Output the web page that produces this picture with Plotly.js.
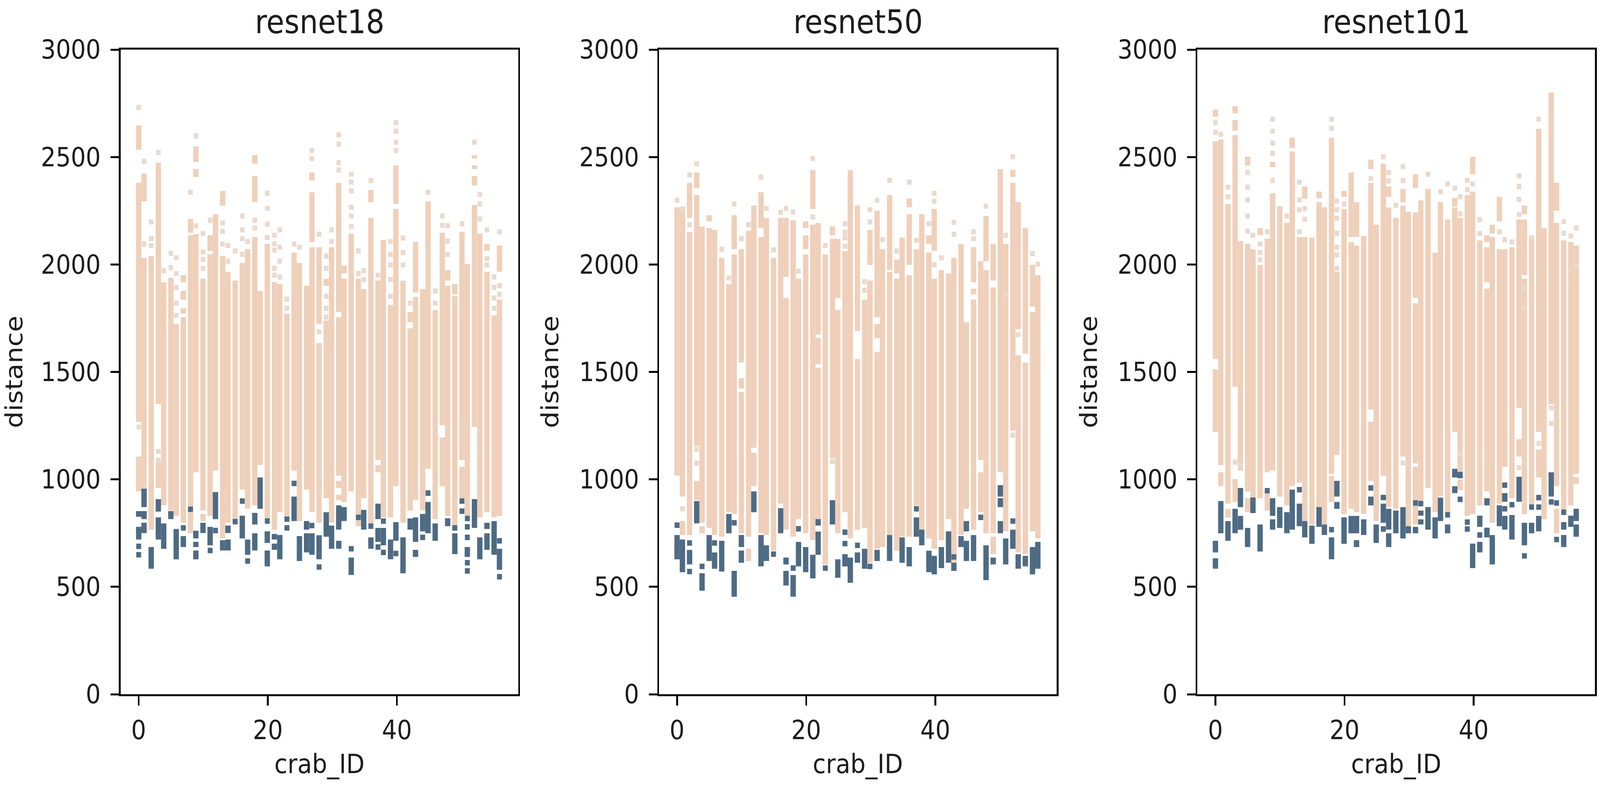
<!DOCTYPE html>
<html>
<head>
<meta charset="utf-8">
<script src="https://cdn.plot.ly/plotly-3.0.1.min.js"></script>
<style>html,body{margin:0;padding:0;background:#fff;overflow:hidden}</style>
</head>
<body>
<div id="myDiv"></div>
<script>
var titles = ["resnet18", "resnet50", "resnet101"];
var x_ticks = [0, 20, 40];
var y_ticks = [0, 500, 1000, 1500, 2000, 2500, 3000];

// every list has one row per crab_ID (0..56)
// *_peach / *_blue are solid runs of points [low, high], *_dots are lone points

var r18_peach = [
[[2534,2647],[1268,2380],[944,1106]],[[2294,2423],[960,2030]],[[766,2039]],[[1350,2474],[960,1082]],[[879,1917]],
[[855,1938]],[[830,1723]],[[1917,1950],[1836,1877],[1771,1796],[798,1755]],[[2148,2212],[749,2136]],[[2477,2550],[2407,2444],[1033,2141]],
[[855,1934],[806,839]],[[2063,2136],[830,2047]],[[1041,2234]],[[2274,2342],[725,2039]],[[798,1966]],
[[806,1925]],[[952,2007]],[[863,2071]],[[2469,2509],[2290,2412],[879,2128]],[[1066,1877]],
[[815,2096]],[[766,1917]],[[847,1909]],[[830,1771]],[[1998,2055],[1041,1998]],
[[806,2007]],[[952,1901]],[[2391,2428],[2104,2336],[847,2080]],[[1723,2080],[798,1634]],[[1901,1933],[912,1739]],
[[798,2080]],[[1779,2380],[1017,1755],[960,993],[903,928]],[[1958,1995],[895,1934]],[[944,2144]],[[782,1934]],
[[912,1885]],[[2290,2347],[790,2217]],[[1090,1925],[1033,1066]],[[823,2115]],[[823,1812]],
[[2282,2461],[968,2258]],[[798,1925]],[[1731,1779],[855,1703]],[[1869,2104],[904,1849]],[[855,1885]],
[[1050,2294]],[[815,1788]],[[1252,2148],[968,1195]],[[1925,1974],[830,1901]],[[1861,1909],[782,1852]],
[[1090,2152],[912,1058]],[[830,2002]],[[2493,2509],[2444,2461],[2368,2412],[1244,2277]],[[823,2144]],[[2063,2096],[847,1966]],
[[823,1763]],[[1966,2088],[830,1836]]
];
var r18_peach_dots = [
[2731,1244],[2480,2096],[2198,2120,2088],[2521,1130,1090],[1971],
[2052,1985],[2031,1958,1893,1820,1763],[],[2336],[2598,2180],
[2144,2058,2023,1982],[2206],[],[2193,2153,2096],[2088,2015],
[2063],[2226,2161,2120,2047],[2107],[2206,2169],[],
[2331,2261,2188,2125],[2136,2096,2067,1982,1950],[2161,2080,2015,1941],[1839,1796],[2096],
[2080],[],[2530,2493],[2141,1687],[2039,1982,1852,1796,1755],
[2161,2107],[2603,2561,2474,2440],[],[2420,2383,2342,2266,2225,2177],[2063,1958],
[1971,1930],[2391],[1950],[],[2107,2047,1998,1930,1852],
[2660,2620,2569,2530],[2123,2055,1998],[1820],[],[],
[2336],[1877,1820],[2226,2182],[2180,2109,2047],[],
[2190],[],[2569],[2326,2282,2213],[2161,2028,1998],
[1942,1893,1844,1796],[2152,1901,1861]
];
var r18_blue = [
[[826,852],[720,779]],[[871,957],[815,852],[750,798]],[[584,685]],[[850,908],[720,823]],[[677,795]],
[[815,852]],[[628,769]],[[685,736]],[],[[725,761],[685,709],[628,669]],
[[750,798]],[[693,779]],[[815,941]],[[669,717]],[[750,785],[669,720]],
[],[[725,831]],[[649,720]],[[790,844],[669,749]],[[863,1009]],
[[704,758],[595,669]],[[720,746],[672,701]],[[628,741]],[],[[806,920]],
[[620,736]],[[766,806],[660,749]],[[649,749]],[[628,740]],[[733,847]],
[[677,785]],[[766,879],[677,714]],[[806,871]],[[555,636]],[],
[[766,858]],[[677,730]],[[815,887],[709,774]],[[693,774]],[[628,720]],
[[714,801]],[[563,730]],[[766,818]],[[709,823],[639,672]],[[758,839]],
[[749,895]],[[714,795]],[],[[782,819]],[[652,749]],
[],[[639,685]],[[774,908]],[[628,730]],[[672,749],[769,798]],
[[649,806]],[[579,677]]
];
var r18_blue_dots = [
[688,649],[],[],[],[],[],[],[774],[861],[],
[],[669],[762],[],[],[803],[899],[620],[],[],
[806],[],[],[815,774],[981],[],[],[785],[592],[],
[],[],[],[677],[823],[],[782],[685],[806,660],[],
[655],[],[],[],[730],[936],[],[],[],[774],
[899,852],[818,779,730,612,574],[],[],[],[],[714,547]
];

var r50_peach = [
[[1017,2266]],[[920,2266],[741,806]],[[2217,2380],[741,2152]],[[2355,2428],[1155,2323],[904,993]],[[798,2177],[749,782]],
[[2201,2229],[774,2169]],[[741,2161]],[[733,2031]],[[847,1909]],[[2071,2229],[839,2047]],
[[1544,2071],[1423,1471],[749,1406]],[[733,2157],[620,677]],[[1147,2274],[968,1123]],[[2169,2336],[749,2128]],[[741,2217]],
[[668,2031]],[[1552,2217],[887,1552]],[[1942,2217],[766,1844]],[[733,2206]],[[815,1934]],
[[2169,2201],[2071,2136],[749,2047]],[[2258,2440],[717,2185]],[[1674,2193],[1536,1658],[815,1520]],[[603,2047]],[[2136,2177],[1098,2120]],
[[1844,2120],[749,1788]],[[847,2063]],[[725,2440]],[[1690,2274],[766,1560]],[[774,1836]],
[[758,1925],[1998,2161],[612,758]],[[1755,2250],[1658,1723],[677,1593]],[[685,2071]],[[1974,2323],[741,1966]],[[1958,2023],[668,1934]],
[[733,2125]],[[2266,2307],[1998,2234],[733,1950]],[[879,2071]],[[740,2234]],[[2096,2136],[725,2055]],
[[2063,2258],[677,1934]],[[717,1974]],[[815,1958]],[[612,2031]],[[741,2096]],
[[863,1731]],[[1917,2080],[1861,1888],[766,1836]],[[1090,2015],[847,1033]],[[2015,2226],[749,1974]],[[1925,2096],[652,733],[749,1893]],
[[1033,2444]],[[758,1893],[1893,2096]],[[2407,2440],[1228,2380]],[[1698,2290],[660,1577]],[[1585,2169],[652,1544]],
[[1804,1998],[758,1779]],[[725,1950]]
];
var r50_peach_dots = [
[2299],[2258,863],[2417,2185],[2469,1140,1075],[],
[],[],[2071],[1937],[2282],
[2120],[2185],[],[2407],[2261],
[2068],[2242],[2261],[2245],[1969],
[],[2493,2221],[],[2088],[1082],
[],[2190,2150,2125,2085],[],[],[1920,1880],
[2255,2198],[2299],[2115],[2391],[2063],
[],[2383],[2112],[],[2190],
[2331,2294,1998],[2031],[],[2196,2140],[],
[],[2152,2120],[],[2271],[],
[],[2136,1860],[2501,1205],[1674],[],
[2050],[2002]
];
var r50_blue = [
[[628,741]],[[568,720]],[[604,672]],[[795,899]],[[482,563]],
[[620,741]],[[584,660]],[[571,714]],[[749,839]],[[454,574]],
[[685,741],[612,669]],[],[[847,944]],[[595,741]],[[620,693]],
[],[[749,866]],[[604,636],[506,574]],[[454,555]],[[595,709]],
[[568,685]],[[539,649]],[[785,815],[649,757]],[],[[790,903]],
[[542,628]],[[595,652]],[[519,636]],[[612,660]],[[584,677]],
[],[[620,672]],[],[[620,741]],[],
[[612,730]],[[595,685]],[[733,823]],[[693,766]],[[568,668]],
[[558,644]],[[587,685]],[[612,758]],[[574,612]],[[685,736]],
[[758,806],[620,714]],[[620,741]],[],[[531,693]],[[604,636]],
[[749,806],[871,912],[920,973]],[[604,725]],[[677,766]],[[584,652]],[[595,644]],
[[558,685]],[[584,709]]
];
var r50_blue_dots = [
[787],[],[704,571],[],[595],[],[704],[],[],[798],
[],[],[],[],[],[652],[],[],[587],[770],
[],[],[],[587],[],[],[754,701],[],[693],[],
[595],[],[],[],[],[],[],[863],[],[],
[],[],[],[639],[],[],[],[823],[],[],
[],[],[806],[],[],[],[]
];

var r101_peach = [
[[2688,2720],[1560,2574],[1220,1512]],[[1066,2582],[968,1033]],[[887,2282],[822,863]],[[2704,2736],[2623,2672],[1431,2602],[895,1001]],[[1041,2109]],
[[2461,2501],[944,2096],[847,912]],[[912,2071]],[[912,1998],[2136,2169]],[[1033,2120],[855,936]],[[2453,2477],[1041,2331]],
[[920,2271]],[[879,2193]],[[2542,2590],[968,2526]],[[985,2128]],[[2307,2363],[806,2128]],
[[790,2125]],[[2307,2339],[871,2290]],[[790,2266]],[[1025,2590],[895,1017]],[[1114,1966]],
[[2315,2342],[838,2258]],[[2128,2428],[863,2104]],[[2128,2290],[847,2088]],[[839,2133]],[[2444,2488],[1325,2380],[993,1268]],
[[806,2185]],[[1017,2469]],[[2315,2363],[2225,2265],[871,2225]],[[863,2217]],[[1106,2274],[2290,2352]],
[[879,2245],[782,879]],[[2355,2420],[1844,2242],[1074,1820],[790,1060]],[[887,2298]],[[960,2352]],[[847,2055]],
[[920,2290]],[[847,2209]],[[2270,2310],[1220,2266]],[[1033,2217],[950,1000]],[[830,2323]],
[[2420,2501],[838,2339]],[[879,2112]],[[2104,2136],[1917,2080],[944,1888]],[[2144,2185],[798,2128]],[[2201,2315],[887,2071]],
[[1058,2071]],[[912,2080]],[[1333,2209],[1106,1187]],[[1950,2209],[2234,2274],[838,1934]],[[1966,2125],[879,1966]],
[[1220,2631],[1009,1139]],[[814,2169]],[[1350,2800]],[[968,2193],[2250,2380],[749,863]],[[855,2112]],
[[879,2104]],[[1025,1925],[1917,2088],[980,1010]]
];
var r101_peach_dots = [
[2660,2615],[2605],[2359,2315],[1080],[1065],
[2428,2360,2300,2225,2155],[2136],[2095,2055,2022],[2152],[2676,2620,2565,2517,2391],
[],[2225],[],[2383,2300,2255,2152],[2260,2210],
[],[],[],[2676,2634],[2295,2255,2215,2145,2080,2045,1982],
[2282],[],[],[],[2400],
[],[2501],[2428,2388],[2275],[2456,2391,1077],
[],[],[],[2420],[],
[2339],[2375],[2355],[2315,2235,1120],[2391,2347],
[2375],[2209,2144],[],[],[2152],
[2115],[2105],[2412,2363,2303,2233,1055],[1890,1800],[2125],
[2676,1167],[],[1333,1260],[],[2200,2145],
[2133],[2169,1990]
];
var r101_blue = [
[[660,714],[584,633]],[[749,899]],[[714,806]],[[749,863]],[[871,960],[766,830]],
[[685,774]],[[843,916]],[[664,790]],[],[[830,912],[766,814]],
[[774,871]],[[749,847]],[[766,952]],[[782,887]],[[730,806]],
[[700,785]],[[779,871]],[[741,790]],[[628,730]],[[920,993],[863,895]],
[[700,823]],[[749,830]],[[749,830],[685,717]],[[741,814]],[[879,920]],
[[704,790]],[[798,887],[903,928]],[[766,863],[685,749]],[[749,855]],[[725,871]],
[[749,782]],[[749,779]],[[831,855],[790,814]],[[766,871]],[[725,823]],
[[806,915]],[[749,790]],[[1009,1049],[936,968]],[[1005,1035]],[],
[[587,701]],[[779,831],[660,709]],[[879,912],[730,775]],[[604,741]],[[782,879]],
[[896,936],[766,830]],[[720,834]],[[896,1012]],[[693,798]],[[749,798]],
[[758,830]],[],[[920,1033]],[],[[766,801],[685,741]],
[[779,831]],[[806,863],[733,790]]
];
var r101_blue_dots = [
[],[],[],[],[],[],[],[],[947],[],
[],[],[],[952],[],[],[],[],[766],[],
[],[],[],[],[960],[],[769],[],[],[],
[],[890],[887],[],[],[],[835],[],[907],[801,769],
[],[741],[],[],[],[973,863],[882],[],[644],[871],
[915,871],[],[895],[890,720],[847],[],[]
];

var peach_spans = [r18_peach, r50_peach, r101_peach];
var peach_points = [r18_peach_dots, r50_peach_dots, r101_peach_dots];
var blue_spans = [r18_blue, r50_blue, r101_blue];
var blue_points = [r18_blue_dots, r50_blue_dots, r101_blue_dots];

var W = 4550, H = 2013;
var panel_left = [343, 1874, 3405];
var panel_width = 1131;
var plot_top = 127, plot_bottom = 1778;

var PEACH = "#EFD0BA", PEACH_DOT = "#EADACE", BLUE = "#4E6B84";
var FONT = "DejaVu Sans";
var INK = "#1c1c1c";

// source was a small png, scatter columns sat on its pixel grid (3.6 px per crab, 3 px markers)
function snap(k){ return Math.round(k * 3.615 - 0.25) / 3.615; }
var col_width = 3 / 3.615;

function spanTrace(rows, color, n){
    var x = [], base = [], y = [];
    rows.forEach(function(row, k){
        row.forEach(function(s){
            var lo = Math.min(s[0], s[1]), hi = Math.max(s[0], s[1]);
            x.push(snap(k)); base.push(lo); y.push(hi - lo);
        });
    });
    return {type: "bar", x: x, y: y, base: base, width: col_width,
        marker: {color: color, line: {width: 0}},
        xaxis: "x" + n, yaxis: "y" + n, showlegend: false, hoverinfo: "skip"};
}

function dotTrace(rows, color, size, n){
    var x = [], y = [];
    rows.forEach(function(row, k){
        row.forEach(function(v){ x.push(snap(k)); y.push(v); });
    });
    return {type: "scatter", mode: "markers", x: x, y: y,
        marker: {color: color, size: size, symbol: "square", line: {width: 0}},
        xaxis: "x" + n, yaxis: "y" + n, showlegend: false, hoverinfo: "skip"};
}

var data = [];
var layout = {
    width: W, height: H,
    margin: {l: 0, r: 0, t: 0, b: 0},
    paper_bgcolor: "#fff", plot_bgcolor: "#fff",
    barmode: "overlay",
    font: {family: FONT, color: INK, size: 67},
    annotations: []
};

titles.forEach(function(name, i){
    var n = i + 1;
    var sfx = i === 0 ? "" : String(n);
    data.push(spanTrace(peach_spans[i], PEACH, sfx));
    data.push(dotTrace(peach_points[i], PEACH_DOT, 13, sfx));
    data.push(spanTrace(blue_spans[i], BLUE, sfx));
    data.push(dotTrace(blue_points[i], BLUE, 14, sfx));

    layout["xaxis" + sfx] = {
        domain: [panel_left[i] / W, (panel_left[i] + panel_width) / W],
        range: [-2.8, 58.8],
        anchor: "y" + sfx,
        tickmode: "array", tickvals: x_ticks, ticktext: x_ticks.map(String),
        ticks: "outside", ticklen: 24, tickwidth: 5, tickcolor: "#000",
        ticklabelstandoff: 6,
        showline: true, linewidth: 5, linecolor: "#000", mirror: true,
        showgrid: false, zeroline: false,
        tickfont: {family: FONT, size: 67, color: INK},
        title: {text: "crab_ID", font: {family: FONT, size: 68, color: INK}, standoff: 26}
    };
    layout["yaxis" + sfx] = {
        domain: [(H - plot_bottom) / H, (H - plot_top) / H],
        range: [0, 3000],
        anchor: "x" + sfx,
        tickmode: "array", tickvals: y_ticks, ticktext: y_ticks.map(String),
        ticks: "outside", ticklen: 24, tickwidth: 5, tickcolor: "#000",
        ticklabelstandoff: 14,
        showline: true, linewidth: 5, linecolor: "#000", mirror: true,
        showgrid: false, zeroline: false,
        tickfont: {family: FONT, size: 67, color: INK},
        title: {text: "distance", font: {family: FONT, size: 68, color: INK}, standoff: 38}
    };
    layout.annotations.push({
        text: name, showarrow: false,
        xref: "paper", yref: "paper",
        x: (panel_left[i] + panel_width / 2) / W,
        y: (H - 56) / H,
        xanchor: "center", yanchor: "middle",
        font: {family: FONT, size: 83, color: INK}
    });
});

// the browser window tops out narrower than 4550, so squeeze the full chart into what is there
var div = document.getElementById("myDiv");
div.style.width = W + "px";
div.style.transformOrigin = "0 0";
div.style.transform = "scaleX(" + (window.innerWidth / W) + ")";

Plotly.newPlot("myDiv", data, layout, {displayModeBar: false, staticPlot: true});
</script>
</body>
</html>
